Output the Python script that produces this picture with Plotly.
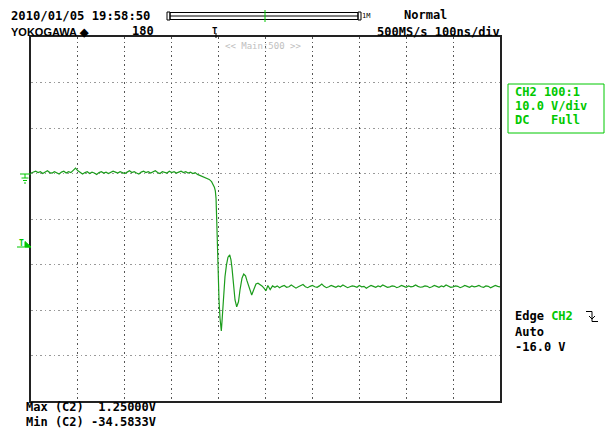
import plotly.graph_objects as go

# ---- data (time in ns, CH2 voltage in V) ----
t_pre = list(range(-400, -45, 5))
v_pre = [0.1, 0.3, 0.5, 0.2, 0.4, 0.0, 0.3, 0.6, 0.2, 0.1,
         0.4, 0.2, -0.1, 0.3, 0.5, 0.1, 0.4, 0.2, 0.7, 1.2,
         0.6, 0.3, -0.1, 0.2, 0.4, 0.0, 0.3, 0.1, -0.2, 0.2,
         0.4, 0.1, 0.3, 0.0, 0.2, 0.5, 0.3, 0.1, 0.4, 0.2,
         0.0, 0.3, 0.6, 0.2, 0.4, 0.1, -0.1, 0.3, 0.5, 0.2,
         0.4, 0.1, 0.3, 0.6, 0.2, 0.0, 0.4, 0.3, 0.1, 0.5,
         0.2, 0.4, 0.1, 0.3, 0.5, 0.2, 0.4, 0.1, 0.3, 0.0, 0.2]

t_edge = [-45, -40, -35, -30, -25, -20, -15, -12, -9, -7, -5.5, -4, -2.8, -1.3,
          0.9, 3, 4.5, 5.8, 7.2, 9.4, 11.5, 13.6, 16.8, 20, 23.7, 26.4, 28.6,
          31.8, 35, 38.6, 42.4, 45.6, 49.9, 53.5, 57.4, 60.6, 66, 70.6, 75.5,
          79.7, 84, 88.3, 92.5, 96.8, 101, 105, 110, 115]
v_edge = [-0.2, -0.4, -0.6, -0.8, -1.0, -1.3, -1.8, -2.3, -3.0, -3.8, -5.4, -10.2,
          -15.7, -22.7, -27.8, -31.8, -34.0, -34.58, -32.6, -28.9, -25.6, -22.7,
          -20.1, -18.4, -17.9, -19.0, -20.8, -24.5, -27.8, -29.3, -28.2, -25.6,
          -23.0, -22.1, -22.5, -23.6, -25.6, -26.7, -25.4, -24.3, -24.1, -24.4,
          -24.7, -25.2, -25.8, -24.6, -25.5, -24.7]

t_post = list(range(120, 601, 5))
v_post = [-25.0, -24.7, -25.1, -24.8, -24.6, -25.0, -24.9, -24.5, -24.8, -25.2,
          -24.9, -24.7, -24.4, -24.9, -25.1, -24.8, -24.6, -24.9, -25.0, -24.7,
          -24.3, -24.8, -25.1, -24.9, -24.6, -24.8, -25.0, -24.7, -24.9, -24.5,
          -24.8, -25.1, -24.9, -24.7, -24.8, -25.0, -24.6, -24.9, -24.8, -25.2,
          -24.9, -24.6, -24.8, -25.0, -24.7, -24.9, -24.5, -24.8, -25.0, -24.9,
          -24.7, -24.8, -25.1, -24.9, -24.6, -24.8, -25.0, -24.7, -24.9, -24.8,
          -24.5, -24.8, -25.0, -24.9, -24.7, -24.8, -25.1, -24.9, -24.6, -24.8,
          -25.0, -24.7, -24.9, -24.5, -24.8, -25.0, -24.9, -24.7, -24.8, -25.1,
          -24.9, -24.6, -24.8, -25.0, -24.7, -24.9, -24.8, -24.6, -24.9, -25.0,
          -24.7, -24.8, -25.1, -24.9, -24.6, -24.8, -24.9]

t_ns = t_pre + t_edge + t_post
v_ch2 = v_pre + v_edge + v_post

# ---- layout helpers (pixel -> paper) ----
W, H = 605, 434
L, R, T, B = 31, 105, 37, 33
PW, PH = W - L - R, H - T - B


def px(x):
    return (x - L) / PW


def py(y):
    return (H - B - y) / PH


GREEN = "#00c800"
MONO = "DejaVu Sans Mono"

fig = go.Figure()
fig.add_trace(go.Scatter(x=t_ns, y=v_ch2, mode="lines",
                         line=dict(color="#1c9c1c", width=1.2),
                         hoverinfo="skip", showlegend=False))

annotations = []


def txt(x, y, s, size=12, color="black", family=MONO, anchor="left"):
    annotations.append(dict(x=px(x), y=py(y), xref="paper", yref="paper",
                            text=s, showarrow=False, xanchor=anchor,
                            yanchor="middle", font=dict(family=family, size=size, color=color),
                            borderpad=0))


txt(10, 16, "<b>2010/01/05 19:58:50</b>", size=12.2)
txt(10, 32, "<b>YOKOGAWA \u25c6</b>", size=11, family="Liberation Sans")
txt(131, 31, "<b>180</b>", size=12)
txt(361, 16, "1M", size=7)
txt(448, 15, "<b>Normal</b>", size=12, anchor="right")
txt(501, 32, "<b>500MS/s 100ns/div</b>", size=12, anchor="right")
txt(263, 46, "&lt;&lt; Main:500 &gt;&gt;", size=9, color="#c0c0c0", anchor="center")
txt(214.5, 31, "<b>T</b>", size=9, anchor="center")

txt(514, 92, "<b>CH2 100:1</b>", color=GREEN)
txt(514, 106, "<b>10.0 V/div</b>", color=GREEN)
txt(514, 120, "<b>DC   Full</b>", color=GREEN)

txt(514, 316, "<b>Edge <span style='color:%s'>CH2</span></b>" % GREEN)
txt(514, 332, "<b>Auto</b>")
txt(514, 347, "<b>-16.0 V</b>")

txt(25, 407, "<b>Max (C2)  1.25000V</b>", size=12)
txt(25, 422, "<b>Min (C2) -34.5833V</b>", size=12)

txt(21, 243, "<b>T</b>", size=8, color=GREEN, anchor="center")

shapes = []


def ln(x0, y0, x1, y1, color="black", width=1):
    shapes.append(dict(type="line", xref="paper", yref="paper",
                       x0=px(x0), y0=py(y0), x1=px(x1), y1=py(y1),
                       line=dict(color=color, width=width)))


def rect(x0, y0, x1, y1, color="black", width=1):
    shapes.append(dict(type="rect", xref="paper", yref="paper",
                       x0=px(x0), y0=py(y0), x1=px(x1), y1=py(y1),
                       line=dict(color=color, width=width)))


# time bar
rect(167, 12, 170, 20)
rect(170, 12.5, 358, 19.5)
ln(170, 16, 358, 16)
rect(358, 12, 361, 20)
ln(265, 10, 265, 22, color=GREEN, width=1)
# trigger position arrow at top
ln(216, 33, 216, 38)

# right info box
rect(508, 84, 604, 133, color=GREEN, width=1)

# falling edge symbol
ln(586, 311.5, 592, 311.5)
ln(592, 311.5, 592, 321.5)
ln(592, 321.5, 598, 321.5)
ln(589, 316, 592, 319)
ln(595, 316, 592, 319)

# ground marker
ln(20, 174, 31, 174, color=GREEN)
ln(25, 174, 25, 178, color=GREEN)
ln(21.5, 178, 28.5, 178, color=GREEN)
ln(23, 180.5, 27, 180.5, color=GREEN)
ln(24, 183, 26, 183, color=GREEN)

# trigger level marker
shapes.append(dict(type="path", xref="paper", yref="paper",
                   path="M %f %f L %f %f L %f %f Z" % (px(25), py(241.5), px(31), py(247), px(25), py(247)),
                   fillcolor=GREEN, line=dict(color=GREEN, width=1)))
ln(17, 247, 31, 247, color=GREEN)

fig.update_layout(
    width=W, height=H,
    margin=dict(l=L, r=R, t=T, b=B, pad=0),
    paper_bgcolor="white", plot_bgcolor="white",
    showlegend=False,
    annotations=annotations,
    shapes=shapes,
    xaxis=dict(range=[-400, 600], tick0=0, dtick=100, showgrid=True,
               gridcolor="#555555", griddash="1.5px,3px", gridwidth=1,
               showticklabels=False, ticks="", zeroline=False,
               showline=True, linecolor="#222222", linewidth=1.5, mirror=True),
    yaxis=dict(range=[-50, 30], tick0=0, dtick=10, showgrid=True,
               gridcolor="#999999", griddash="1.5px,3px", gridwidth=1,
               showticklabels=False, ticks="", zeroline=False,
               showline=True, linecolor="#222222", linewidth=1.5, mirror=True),
)

fig.write_html("out.html")
